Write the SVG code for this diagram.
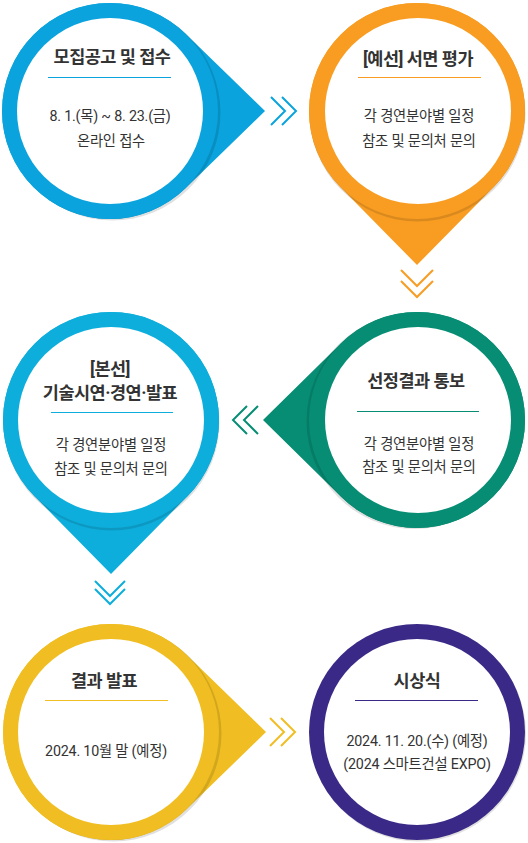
<svg xmlns="http://www.w3.org/2000/svg" width="528" height="843" viewBox="0 0 528 843">
<style>
.t{font-family:Roboto,"Noto Sans CJK KR",sans-serif;font-size:17.5px;font-weight:700;fill:#333;text-anchor:middle;letter-spacing:-0.5px}
.b{font-family:Roboto,"Noto Sans CJK KR",sans-serif;font-size:14.3px;fill:#333;text-anchor:middle;letter-spacing:-0.2px}
.sh{fill:#000;opacity:0.12}
.in{fill:#fff}
.ch{fill:none;stroke-width:2}
</style>
<rect width="528" height="843" fill="#fff"/>
<g id="connectors">
<polyline class="ch" stroke="#0aa3dd" points="271,97 285,111 271,125"/>
<polyline class="ch" stroke="#0aa3dd" points="282,97 296,111 282,125"/>
<polyline class="ch" stroke="#f89d22" points="401,270 417,286 433,270"/>
<polyline class="ch" stroke="#f89d22" points="401,281 417,297 433,281"/>
<polyline class="ch" stroke="#078d74" points="247,406 233,420 247,434"/>
<polyline class="ch" stroke="#078d74" points="258,406 244,420 258,434"/>
<polyline class="ch" stroke="#0eaedc" points="95,581 110,596 125,581"/>
<polyline class="ch" stroke="#0eaedc" points="95,589 110,604 125,589"/>
<polyline class="ch" stroke="#f0be22" points="270,718 284,732 270,746"/>
<polyline class="ch" stroke="#f0be22" points="281,718 295,732 281,746"/>
</g>
<g id="node1">
<path fill="#0aa3dd" d="M185.3,33.5 L265,111 L185.3,188.5 A108,108 0 1 1 185.3,33.5 Z"/>
<circle class="sh" cx="112.5" cy="112.5" r="108"/>
<circle fill="#0aa3dd" cx="110" cy="111" r="108"/>
<circle class="in" cx="110" cy="111" r="93"/>
<text class="t" x="112" y="63">모집공고 및 접수</text>
<line x1="48" y1="77.5" x2="171" y2="77.5" stroke="#0aa3dd" stroke-width="1"/>
<text class="b" x="110" y="121">8. 1.(목) ~ 8. 23.(금)</text>
<text class="b" x="111" y="146">온라인 접수</text>
</g>
<g id="node2">
<path fill="#f89d22" d="M494,186.7 L417,265 L340,186.7 A108,108 0 1 1 494,186.7 Z"/>
<circle class="sh" cx="417.5" cy="113.5" r="108"/>
<circle fill="#f89d22" cx="417" cy="111" r="108"/>
<circle class="in" cx="418" cy="111" r="93"/>
<text class="t" x="418" y="65">[예선] 서면 평가</text>
<line x1="358" y1="77.5" x2="481" y2="77.5" stroke="#f89d22" stroke-width="1"/>
<text class="b" x="419" y="121">각 경연분야별 일정</text>
<text class="b" x="419" y="146">참조 및 문의처 문의</text>
</g>
<g id="node3">
<path fill="#078d74" d="M341.3,343 L263,420 L341.3,497 A108,108 0 1 0 341.3,343 Z"/>
<circle class="sh" cx="414.5" cy="421" r="108"/>
<circle fill="#078d74" cx="417" cy="420" r="108"/>
<circle class="in" cx="418" cy="420" r="93"/>
<text class="t" x="416" y="387">선정결과 통보</text>
<line x1="357" y1="411.5" x2="479" y2="411.5" stroke="#078d74" stroke-width="1"/>
<text class="b" x="419" y="449">각 경연분야별 일정</text>
<text class="b" x="419" y="472">참조 및 문의처 문의</text>
</g>
<g id="node4">
<path fill="#0eaedc" d="M188,495.7 L111,574 L34,495.7 A108,108 0 1 1 188,495.7 Z"/>
<circle class="sh" cx="111.5" cy="422.5" r="108"/>
<circle fill="#0eaedc" cx="111" cy="420" r="108"/>
<circle class="in" cx="111" cy="420" r="93"/>
<text class="t" x="110" y="375">[본선]</text>
<text class="t" x="110" y="399">기술시연·경연·발표</text>
<line x1="51" y1="412.5" x2="173" y2="412.5" stroke="#0eaedc" stroke-width="1"/>
<text class="b" x="111" y="450">각 경연분야별 일정</text>
<text class="b" x="111" y="474">참조 및 문의처 문의</text>
</g>
<g id="node5">
<path fill="#f0be22" d="M186.3,654.5 L266,732 L186.3,809.5 A108,108 0 1 1 186.3,654.5 Z"/>
<circle class="sh" cx="113.5" cy="733.5" r="108"/>
<circle fill="#f0be22" cx="111" cy="732" r="108"/>
<circle class="in" cx="111" cy="732" r="93"/>
<text class="t" x="104" y="687">결과 발표</text>
<line x1="45" y1="700.5" x2="168" y2="700.5" stroke="#f0be22" stroke-width="1"/>
<text class="b" x="106" y="756">2024. 10월 말 (예정)</text>
</g>
<g id="node6">
<circle class="sh" cx="418" cy="733.5" r="108"/>
<circle fill="#3a2986" cx="417" cy="732" r="108"/>
<circle class="in" cx="417" cy="732" r="93"/>
<text class="t" x="417" y="687">시상식</text>
<line x1="355" y1="700.5" x2="478" y2="700.5" stroke="#3a2986" stroke-width="1"/>
<text class="b" x="417" y="746">2024. 11. 20.(수) (예정)</text>
<text class="b" x="417" y="769">(2024 스마트건설 EXPO)</text>
</g>
</svg>
